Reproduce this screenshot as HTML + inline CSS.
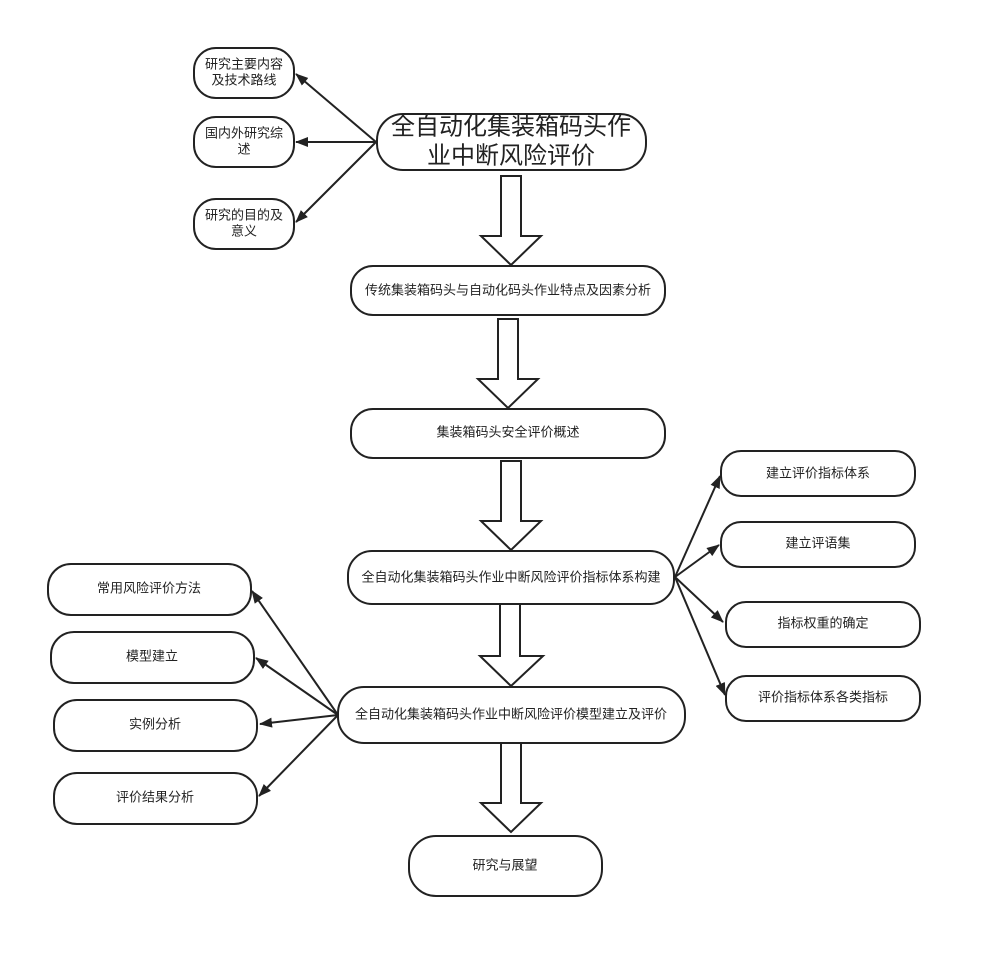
<!DOCTYPE html>
<html><head><meta charset="utf-8"><style>
body{margin:0;background:#fff}
svg text{font-family:"Liberation Sans","Noto Sans CJK SC",sans-serif;fill:#222;text-anchor:middle;dominant-baseline:central}
</style></head><body>
<svg width="981" height="958" xmlns="http://www.w3.org/2000/svg">
<defs><marker id="a" markerWidth="13" markerHeight="10" refX="12" refY="5" orient="auto" markerUnits="userSpaceOnUse"><path d="M0,0 L13,5 L0,10 z" fill="#222"/></marker></defs>
<g fill="#fff" stroke="#222" stroke-width="2">
<rect x="194" y="48" width="100" height="50" rx="22"/>
<rect x="194" y="117" width="100" height="50" rx="22"/>
<rect x="194" y="199" width="100" height="50" rx="22"/>
<rect x="377" y="114" width="269" height="56" rx="26"/>
<rect x="351" y="266" width="314" height="49" rx="22"/>
<rect x="351" y="409" width="314" height="49" rx="22"/>
<rect x="348" y="551" width="326" height="53" rx="24"/>
<rect x="338" y="687" width="347" height="56" rx="26"/>
<rect x="409" y="836" width="193" height="60" rx="27"/>
<rect x="721" y="451" width="194" height="45" rx="20"/>
<rect x="721" y="522" width="194" height="45" rx="20"/>
<rect x="726" y="602" width="194" height="45" rx="20"/>
<rect x="726" y="676" width="194" height="45" rx="20"/>
<rect x="48" y="564" width="203" height="51" rx="23"/>
<rect x="51" y="632" width="203" height="51" rx="23"/>
<rect x="54" y="700" width="203" height="51" rx="23"/>
<rect x="54" y="773" width="203" height="51" rx="23"/>
<path d="M501,176 H521 V236 H541 L511,265 L481,236 H501 Z"/>
<path d="M498,319 H518 V379 H538 L508,408 L478,379 H498 Z"/>
<path d="M501,461 H521 V521 H541 L511,550 L481,521 H501 Z"/>
<path d="M500,604 H520 V656 H543 L511,686 L480,656 H500 Z"/>
<path d="M501,743 H521 V803 H541 L511,832 L481,803 H501 Z"/>
</g>
<g stroke="#222" stroke-width="2" fill="none" marker-end="url(#a)">
<line x1="376" y1="142" x2="296" y2="74"/>
<line x1="376" y1="142" x2="296" y2="142"/>
<line x1="376" y1="142" x2="296" y2="222"/>
<line x1="675" y1="577" x2="720" y2="476"/>
<line x1="675" y1="577" x2="719" y2="545"/>
<line x1="675" y1="577" x2="723" y2="622"/>
<line x1="675" y1="577" x2="725" y2="695"/>
<line x1="338" y1="715" x2="252" y2="591"/>
<line x1="338" y1="715" x2="256" y2="658"/>
<line x1="338" y1="715" x2="260" y2="724"/>
<line x1="338" y1="715" x2="259" y2="796"/>
</g>
<g font-size="13">
<text x="244" y="64">研究主要内容</text><text x="244" y="80">及技术路线</text>
<text x="244" y="133">国内外研究综</text><text x="244" y="149">述</text>
<text x="244" y="215">研究的目的及</text><text x="244" y="231">意义</text>
<text x="508" y="290">传统集装箱码头与自动化码头作业特点及因素分析</text>
<text x="508" y="432">集装箱码头安全评价概述</text>
<text x="511" y="577">全自动化集装箱码头作业中断风险评价指标体系构建</text>
<text x="511" y="714">全自动化集装箱码头作业中断风险评价模型建立及评价</text>
<text x="505" y="865">研究与展望</text>
<text x="818" y="473">建立评价指标体系</text>
<text x="818" y="543">建立评语集</text>
<text x="823" y="623">指标权重的确定</text>
<text x="823" y="697">评价指标体系各类指标</text>
<text x="149" y="588">常用风险评价方法</text>
<text x="152" y="656">模型建立</text>
<text x="155" y="724">实例分析</text>
<text x="155" y="797">评价结果分析</text>
</g>
<g font-size="24">
<text x="511" y="127">全自动化集装箱码头作</text>
<text x="511" y="156">业中断风险评价</text>
</g>
</svg>
</body></html>
